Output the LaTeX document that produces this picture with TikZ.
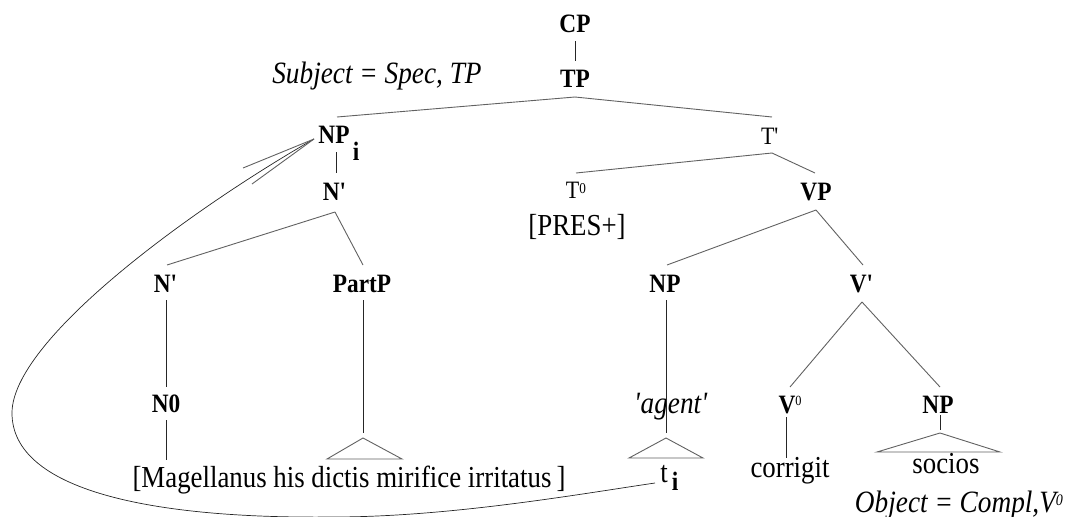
\documentclass[tikz,border=0pt]{standalone}
\usepackage{fontspec}
\setmainfont{Liberation Serif}[FakeStretch=0.88]
\usetikzlibrary{calc}
\newcommand{\sq}{\textquotesingle}
\begin{document}
\begin{tikzpicture}[x=1pt,y=-1pt,
  lbl/.style={font=\fontsize{26.5}{30}\selectfont\bfseries,inner sep=0pt,anchor=base},
  tnode/.style={font=\fontsize{25}{28}\selectfont,inner sep=0pt,anchor=base},
  txt/.style={font=\fontsize{30.5}{34}\selectfont,inner sep=0pt,anchor=base},
  itx/.style={font=\fontsize{31}{34}\selectfont\itshape,inner sep=0pt,anchor=base},
  br/.style={draw=black!62,line width=0.9pt},
  vl/.style={draw=black!85,line width=0.8pt},
  mv/.style={draw=black!85,line width=0.7pt},
]
\useasboundingbox (0,0) rectangle (1077,517);

% nodes
\node[lbl] (cp) at (575,32) {CP};
\node[lbl] (tp) at (575,87) {TP};
\node[itx] (subj) at (377,83) {Subject = Spec, TP};
\node[lbl] (npi) at (334,143) {NP};
\node[lbl] (npisub) at (356,160) {i};
\node[tnode] (tbar) at (770,144) {T\sq};
\node[lbl] (nbar1) at (335,200) {N\sq};
\node[tnode] (t0) at (576,198) {T\raisebox{5pt}{\fontsize{15}{15}\selectfont 0}};
\node[txt] (pres) at (577,235) {[PRES+]};
\node[lbl] (vp) at (816,200) {VP};
\node[lbl] (nbar2) at (166,292) {N\sq};
\node[lbl] (partp) at (362,292) {PartP};
\node[lbl] (np2) at (665,292) {NP};
\node[lbl] (vbar) at (862,292) {V\sq};
\node[lbl] (n0) at (166,412) {N0};
\node[itx] (agent) at (671,413) {\sq agent\sq};
\node[lbl] (v0) at (790,413) {V\raisebox{8pt}{\fontsize{14}{14}\selectfont\mdseries 0}};
\node[lbl] (np3) at (938,413) {NP};
\node[txt] (mag) at (349,487) {[Magellanus his dictis mirifice irritatus\,]};
\node[txt] (ti) at (664,482) {t};
\node[lbl] (tisub) at (675,490) {i};
\node[txt] (corr) at (790,477) {corrigit};
\node[txt] (socios) at (946,473) {socios};
\node[itx] (obj) at (959,512) {Object = Compl,V\raisebox{7pt}{\fontsize{16}{16}\selectfont 0}};

% triangle apices
\coordinate (tri1) at (363,438);
\coordinate (tri2) at (666,438);
\coordinate (tri3) at (940,433);

% tree branches
\draw[vl] ([yshift=-9pt]cp.base) -- ([yshift=26pt]tp.base);
\draw[br] ([yshift=-10pt]tp.base) -- ([xshift=3pt,yshift=26pt]npi.base);
\draw[br] ([yshift=-10pt]tp.base) -- ([xshift=2pt,yshift=27pt]tbar.base);
\draw[vl] ([xshift=2pt,yshift=-9pt]npi.base) -- ([xshift=1pt,yshift=27pt]nbar1.base);
\draw[br] ([yshift=-12pt]nbar1.base) -- ([xshift=1pt,yshift=27pt]nbar2.base);
\draw[br] ([yshift=-12pt]nbar1.base) -- ([xshift=1pt,yshift=27pt]partp.base);
\draw[vl] ([yshift=-8pt]nbar2.base) -- ([yshift=25pt]n0.base);
\draw[vl] ([yshift=-8pt]n0.base) -- ([yshift=27pt]n0.base |- mag.base);
\draw[vl] ([xshift=1pt,yshift=-8pt]partp.base) -- ([yshift=5pt]tri1);
\draw[br] (tri1) -- ++(-36,21) -- ++(75,0) -- cycle;

\draw[br] ([xshift=2pt,yshift=-9pt]tbar.base) -- ([yshift=25pt]t0.base);
\draw[br] ([xshift=2pt,yshift=-9pt]tbar.base) -- ([xshift=-1pt,yshift=27pt]vp.base);
\draw[br] ([yshift=-10pt]vp.base) -- ([xshift=2pt,yshift=27pt]np2.base);
\draw[br] ([yshift=-10pt]vp.base) -- ([xshift=1pt,yshift=27pt]vbar.base);
\draw[vl] ([xshift=1pt,yshift=-8pt]np2.base) -- ([yshift=5pt]tri2);
\draw[br] (tri2) -- ++(-37,20) -- ++(74,0) -- cycle;
\draw[br] ([yshift=-10pt]vbar.base) -- ([yshift=26pt]v0.base);
\draw[br] ([yshift=-10pt]vbar.base) -- ([xshift=2pt,yshift=26pt]np3.base);
\coordinate (v0b) at ([xshift=-4pt,yshift=-4pt]v0.base);
\draw[vl] (v0b) -- ([yshift=19pt]v0b |- corr.base);
\draw[vl] ([xshift=2pt,yshift=-2pt]np3.base) -- ([yshift=3pt]tri3);
\draw[br] (tri3) -- ++(-63,19) -- ++(123,0) -- cycle;

% movement arrow
\coordinate (cstart) at ([xshift=-9pt,yshift=-1pt]ti.base);
\coordinate (tip) at ([xshift=-20pt,yshift=4pt]npi.base);
\draw[mv] (cstart) .. controls (580,494) and (450,517) .. (333,517)
  .. controls (150,519) and (12,490) .. (12,413)
  .. controls (12,340) and (190,210) .. (tip);
\draw[br] (tip) -- ++(-71,29);
\draw[br] (tip) -- ++(-62,45);
\end{tikzpicture}
\end{document}
